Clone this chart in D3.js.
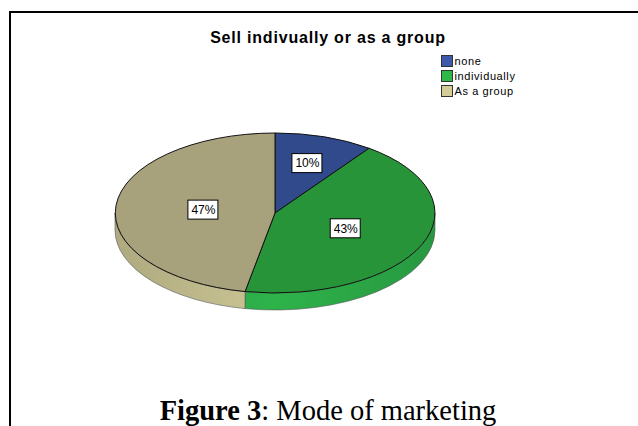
<!DOCTYPE html>
<html>
<head>
<meta charset="utf-8">
<script src="https://cdn.jsdelivr.net/npm/d3@7"></script>
<style>
  body { margin: 0; background: #fff; }
  svg { display: block; }
</style>
</head>
<body>
<div id="chart"></div>
<script>
// Chart data
const categories = ["none", "individually", "As a group"];
const percents = [10, 43, 47];
const chartTitle = "Sell indivually or as a group";

// Colours: legend swatch, top face, side face
const swatchColors = ["#3e58ac", "#2eb848", "#d3ce97"];
const topColors = ["#304a8c", "#28943a", "#a8a27c"];
const sideColors = ["#2c4380", "#2eb34b", "#ccc695"];

var width = 638, height = 426;
var cx = 275, cy = 213, rx = 160, ry = 80, depth = 17;

var svg = d3.select("#chart")
  .append("svg")
  .attr("width", width)
  .attr("height", height);

// Frame of the figure
svg.append("path")
  .attr("d", "M10," + height + " L10,12 L" + width + ",12")
  .attr("fill", "none")
  .attr("stroke", "#000")
  .attr("stroke-width", 2);

// Title
svg.append("text")
  .attr("x", 328)
  .attr("y", 43)
  .attr("text-anchor", "middle")
  .style("font-family", "Liberation Sans, Arial, sans-serif")
  .style("font-size", "16px")
  .style("font-weight", "bold")
  .style("letter-spacing", "0.8px")
  .text(chartTitle);

// Angles from d3.pie (0 at 12 o'clock, clockwise)
var pie = d3.pie().sort(null).value(function(d) { return d; });
var arcs = pie(percents);

function pt(a, dy) {
  return [cx + rx * Math.sin(a), cy - ry * Math.cos(a) + (dy || 0)];
}

// Side gradients
var defs = svg.append("defs");
sideColors.forEach(function(c, i) {
  var g = defs.append("linearGradient")
    .attr("id", "side" + i)
    .attr("gradientUnits", "userSpaceOnUse")
    .attr("x1", cx - rx).attr("x2", cx + rx)
    .attr("y1", 0).attr("y2", 0);
  g.append("stop").attr("offset", 0).attr("stop-color", d3.color(c).darker(0.45));
  g.append("stop").attr("offset", 0.5).attr("stop-color", c);
  g.append("stop").attr("offset", 1).attr("stop-color", d3.color(c).darker(0.45));
});

// Side walls (only the front half, PI/2 .. 3PI/2, is visible)
arcs.forEach(function(d, i) {
  var a0 = Math.max(d.startAngle, Math.PI / 2);
  var a1 = Math.min(d.endAngle, 3 * Math.PI / 2);
  if (a1 <= a0) return;
  var p0 = pt(a0), p1 = pt(a1), q1 = pt(a1, depth), q0 = pt(a0, depth);
  var large = (a1 - a0) > Math.PI ? 1 : 0;
  var dstr = "M" + p0 + " A" + rx + "," + ry + " 0 " + large + " 1 " + p1 +
    " L" + q1 + " A" + rx + "," + ry + " 0 " + large + " 0 " + q0 + " Z";
  svg.append("path")
    .attr("d", dstr)
    .attr("fill", "url(#side" + i + ")")
    .attr("stroke", "#555")
    .attr("stroke-width", 0.6);
});

// Top faces: unit arcs scaled into an ellipse
var arc = d3.arc().innerRadius(0).outerRadius(1);
var topFace = svg.append("g")
  .attr("transform", "translate(" + cx + "," + cy + ") scale(" + rx + "," + ry + ")");

topFace.selectAll("path")
  .data(arcs)
  .enter()
  .append("path")
  .attr("d", arc)
  .attr("fill", function(d, i) { return topColors[i]; })
  .attr("stroke", "#111")
  .attr("stroke-width", 1)
  .attr("vector-effect", "non-scaling-stroke");

// Percentage labels at each sector's centroid
arcs.forEach(function(d) {
  var half = (d.endAngle - d.startAngle) / 2;
  var mid = d.startAngle + half;
  var k = 2 * Math.sin(half) / (3 * half);
  var x = cx + rx * k * Math.sin(mid);
  var y = cy - ry * k * Math.cos(mid);
  var lbl = svg.append("g").attr("transform", "translate(" + x + "," + y + ")");
  var t = lbl.append("text")
    .attr("text-anchor", "middle")
    .attr("dy", "0.36em")
    .style("font-family", "Liberation Sans, Arial, sans-serif")
    .style("font-size", "12px")
    .text(d.data + "%");
  var bb = t.node().getBBox();
  lbl.insert("rect", "text")
    .attr("x", Math.round(bb.x) - 3.5)
    .attr("y", -9.5)
    .attr("width", Math.round(bb.width) + 6)
    .attr("height", 19)
    .attr("fill", "#fff")
    .attr("stroke", "#000")
    .attr("stroke-width", 1);
});

// Legend
var legend = svg.append("g").attr("transform", "translate(441,55)");
categories.forEach(function(c, i) {
  var row = legend.append("g").attr("transform", "translate(0," + (i * 15) + ")");
  row.append("rect")
    .attr("x", 0.5).attr("y", 0.5)
    .attr("width", 11).attr("height", 11)
    .attr("fill", swatchColors[i])
    .attr("stroke", "#333")
    .attr("stroke-width", 1);
  row.append("text")
    .attr("x", 13.5)
    .attr("y", 10)
    .style("font-family", "Liberation Sans, Arial, sans-serif")
    .style("font-size", "11px")
    .style("letter-spacing", "0.6px")
    .text(c);
});

// Caption below the chart
var cap = svg.append("text")
  .attr("x", 328)
  .attr("y", 419.5)
  .attr("text-anchor", "middle")
  .style("font-family", "Liberation Serif, Times New Roman, serif")
  .style("font-size", "28.5px");
cap.append("tspan").style("font-weight", "bold").text("Figure 3");
cap.append("tspan").text(": Mode of marketing");
</script>
</body>
</html>
